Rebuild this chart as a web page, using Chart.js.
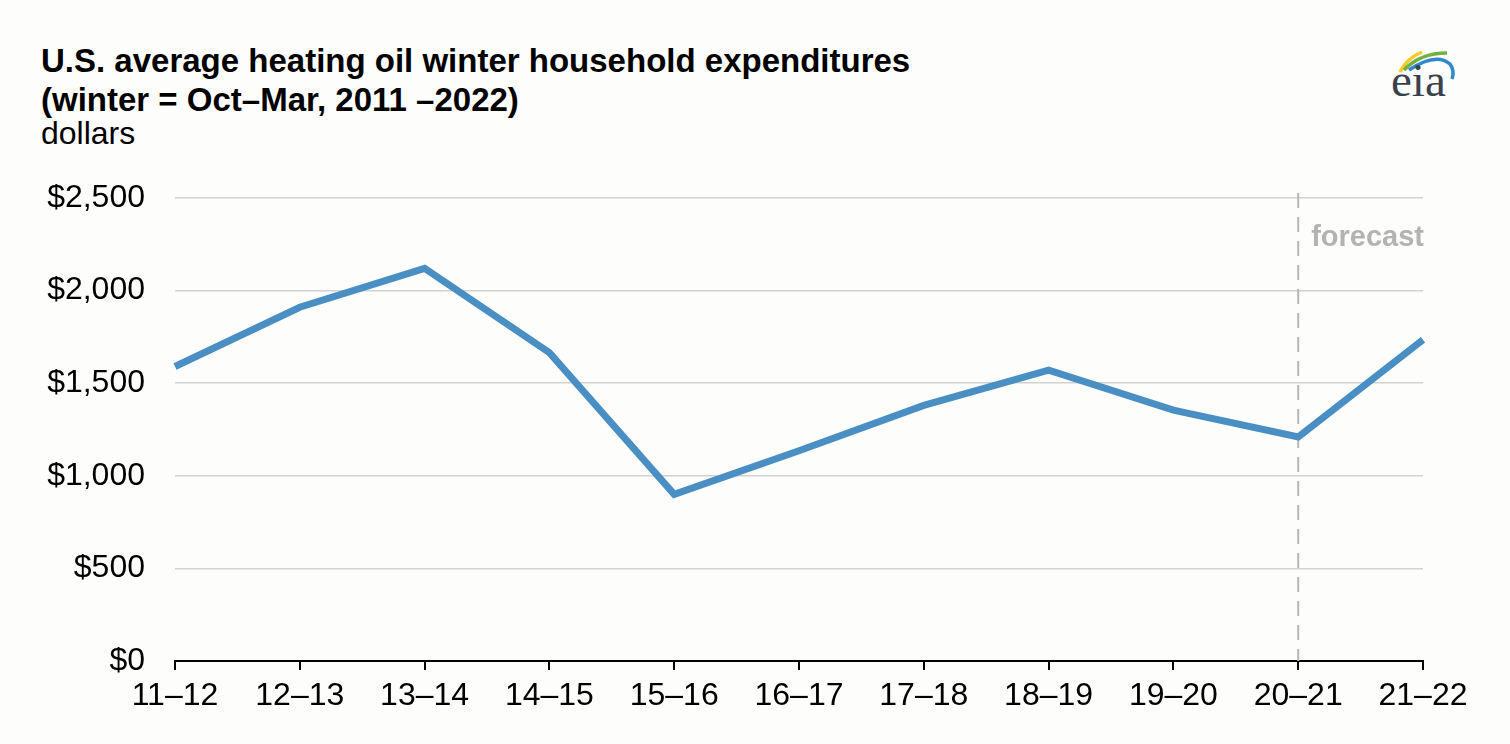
<!DOCTYPE html>
<html>
<head>
<meta charset="utf-8">
<script src="https://cdn.jsdelivr.net/npm/chart.js@4/dist/chart.umd.min.js"></script>
<style>
  html, body { margin: 0; padding: 0; background: #fdfdfb; }
  #wrap { position: relative; width: 1510px; height: 744px; overflow: hidden; }
  #myChart { position: absolute; left: 0; top: 0; }
  .title { position: absolute; left: 41px; top: 41px; font-family: "Liberation Sans", Arial, sans-serif; font-weight: bold; font-size: 33px; line-height: 39px; color: #000; white-space: nowrap; }
  .unit { position: absolute; left: 41px; top: 115px; font-family: "Liberation Sans", Arial, sans-serif; font-size: 32px; color: #000; }
  #logo { position: absolute; left: 1370px; top: 30px; }
</style>
</head>
<body>
<div id="wrap">
  <div class="title">U.S. average heating oil winter household expenditures<br>(winter = Oct–Mar, 2011 –2022)</div>
  <div class="unit">dollars</div>
  <svg id="logo" width="100" height="80" viewBox="0 0 100 80">
    <path d="M30 42 Q37 28 52 22" stroke="#f5cb2a" stroke-width="3.5" fill="none"/>
    <path d="M34 40 Q50 23 77 23" stroke="#72b043" stroke-width="3.5" fill="none"/>
    <path d="M39 40 Q66 22 80 34 Q85 41 82 49" stroke="#2f88c9" stroke-width="3.5" fill="none"/>
    <text x="21" y="66" font-family="Liberation Serif, DejaVu Serif, serif" font-size="47" fill="#38414c">eia</text>
  </svg>
  <canvas id="myChart" width="1510" height="744"></canvas>
</div>
<script>
const ctx = document.getElementById('myChart')

const winters = ['11–12', '12–13', '13–14', '14–15', '15–16', '16–17', '17–18', '18–19', '19–20', '20–21', '21–22']
const expenditures = [1590, 1910, 2120, 1665, 900, 1135, 1380, 1570, 1355, 1210, 1735]
const yTicks = [0, 500, 1000, 1500, 2000, 2500]
const forecastStart = '20–21'

const forecastLine = {
    id: 'forecastLine',
    beforeDatasetsDraw(chart) {
        const c = chart.ctx
        const x = chart.scales.x.getPixelForValue(winters.indexOf(forecastStart))
        const area = chart.chartArea
        c.save()
        c.strokeStyle = '#b7b7b7'
        c.lineWidth = 2
        c.setLineDash([15, 9])
        c.beginPath()
        c.moveTo(x, area.top - 5)
        c.lineTo(x, area.bottom)
        c.stroke()
        c.setLineDash([])
        c.fillStyle = '#b3b3b3'
        c.font = 'bold 29px "Liberation Sans", Arial, sans-serif'
        c.textBaseline = 'middle'
        c.fillText('forecast', x + 13, area.top + 40)
        c.restore()
    }
}

new Chart(ctx, {
    type: 'line',
    data: {
        labels: winters,
        datasets: [{
            label: 'expenditures',
            data: expenditures,
            borderColor: '#4a8fc3',
            backgroundColor: '#4a8fc3',
            borderWidth: 7,
            pointRadius: 0,
            tension: 0
        }]
    },
    options: {
        responsive: false,
        animation: false,
        layout: { padding: { top: 198, right: 87, left: 0, bottom: 0 } },
        plugins: { legend: { display: false }, tooltip: { enabled: false } },
        scales: {
            x: {
                offset: false,
                afterFit: s => { s.height = 83 },
                grid: { drawOnChartArea: false, drawTicks: true, tickLength: 9, color: '#000', lineWidth: 2 },
                border: { display: true, color: '#000', width: 2 },
                ticks: { color: '#000', padding: 7, maxRotation: 0, autoSkip: false, font: { family: '"Liberation Sans", Arial, sans-serif', size: 32 } }
            },
            y: {
                min: 0,
                max: 2500,
                afterFit: s => { s.width = 175 },
                afterBuildTicks: s => { s.ticks = yTicks.map(v => ({ value: v })) },
                grid: { drawTicks: false, color: '#d2d2d2', lineWidth: 1.5 },
                border: { display: false },
                ticks: {
                    color: '#000',
                    padding: 30,
                    font: { family: '"Liberation Sans", Arial, sans-serif', size: 32 },
                    callback: v => '$' + v.toLocaleString('en-US')
                }
            }
        }
    },
    plugins: [forecastLine]
})
</script>
</body>
</html>
